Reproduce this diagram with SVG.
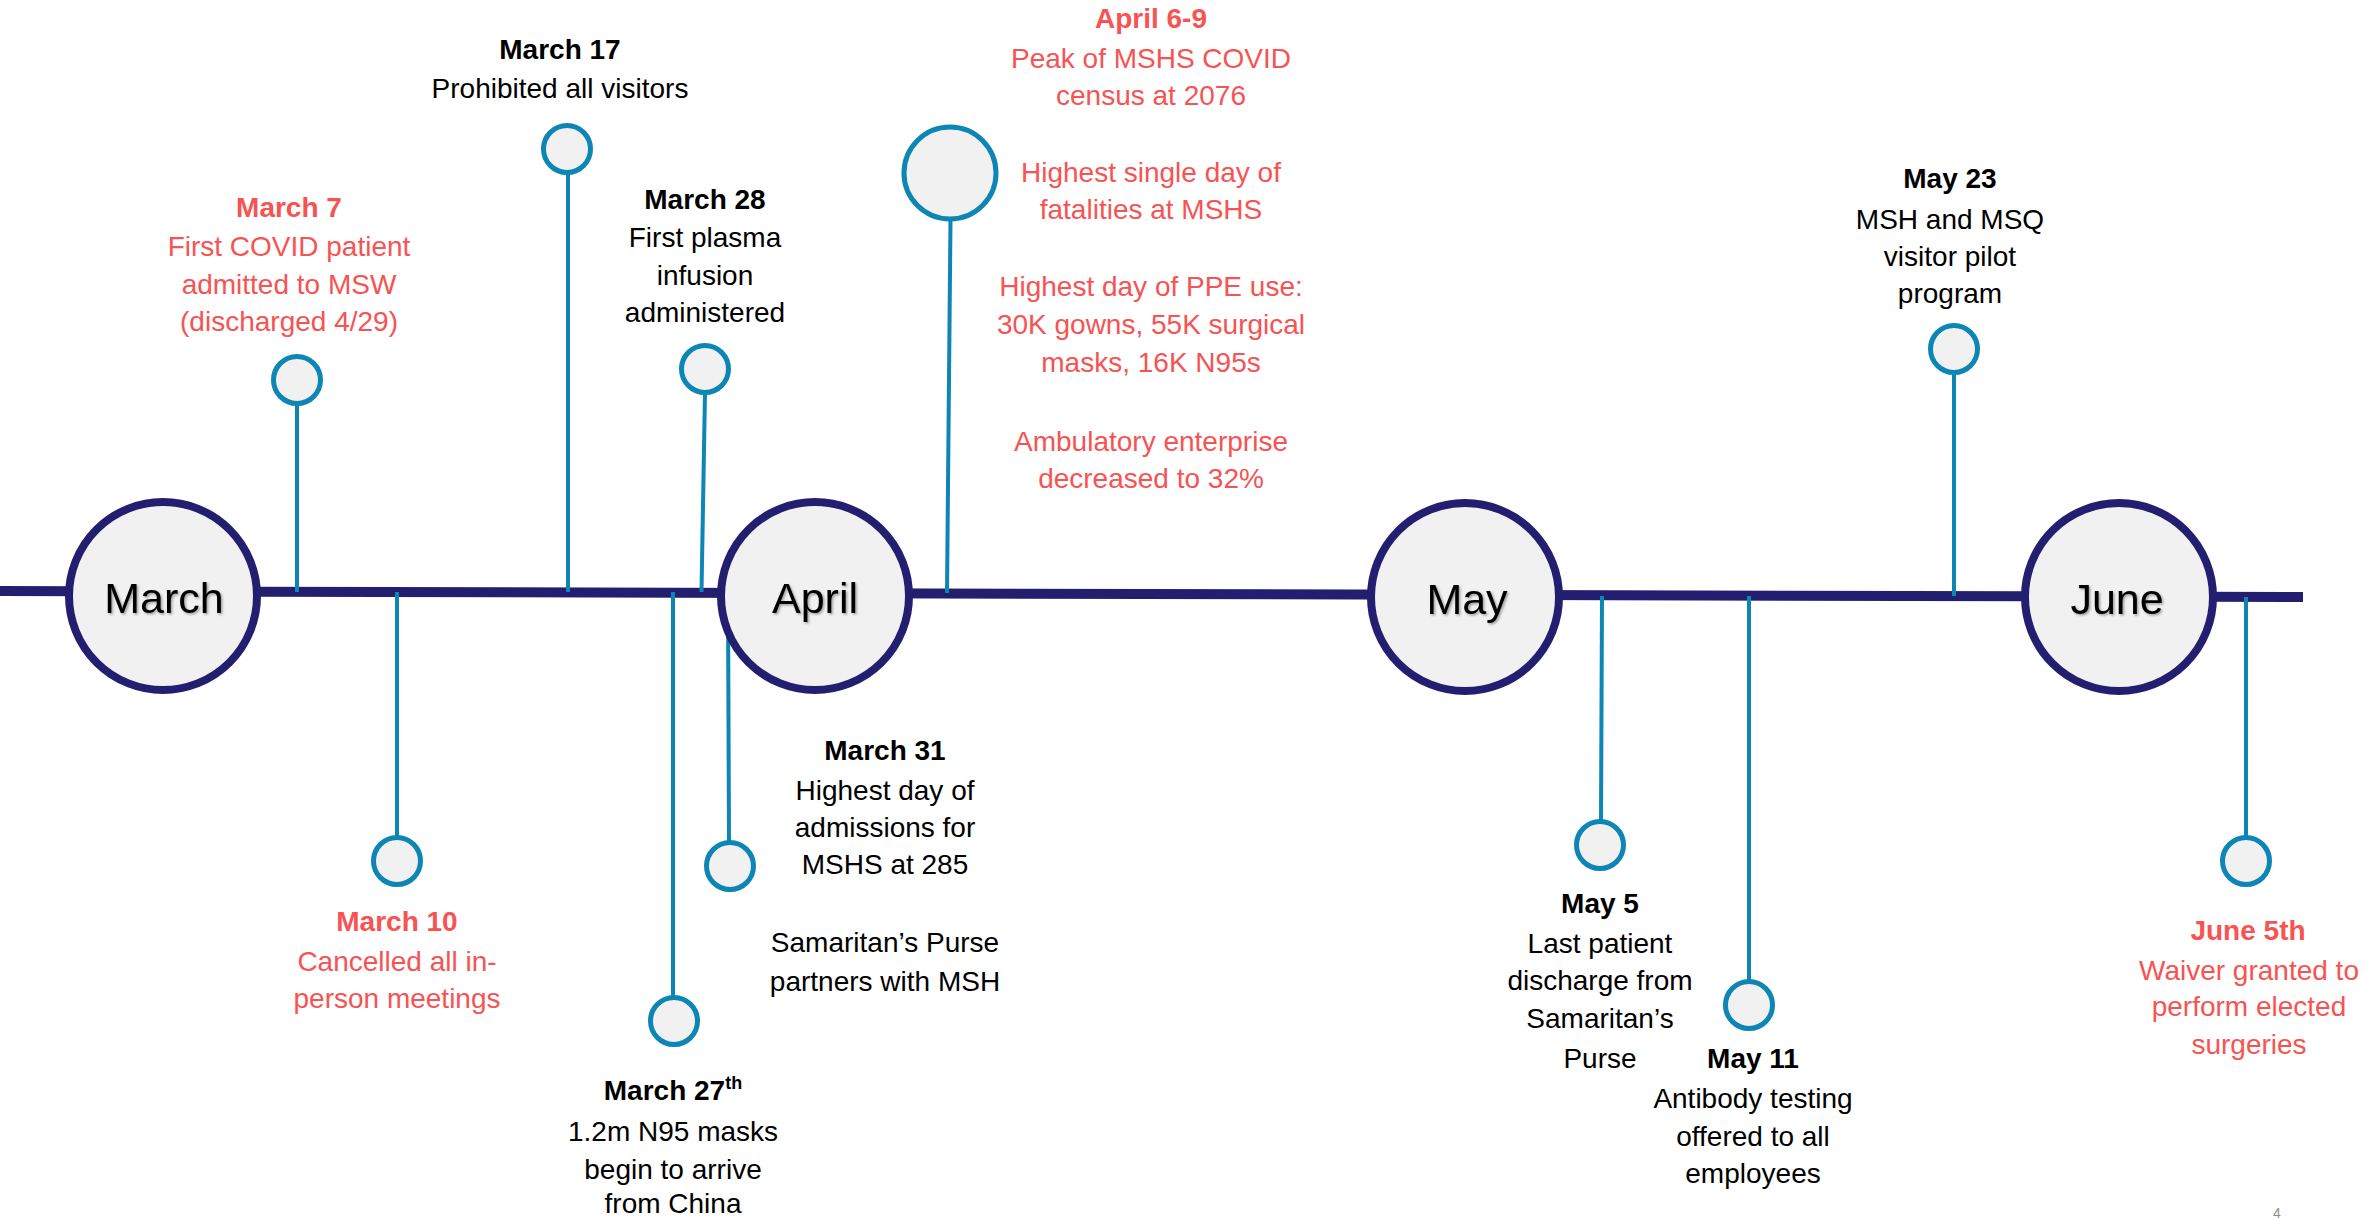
<svg xmlns="http://www.w3.org/2000/svg" width="2367" height="1220" viewBox="0 0 2367 1220">
  <defs>
    <filter id="shadow" x="-20%" y="-20%" width="140%" height="160%">
      <feDropShadow dx="1.5" dy="1.5" stdDeviation="1.2" flood-color="#000" flood-opacity="0.35"/>
    </filter>
  </defs>
  <style>
    text { font-family: "Liberation Sans", Arial, sans-serif; font-size: 28px; text-anchor: middle; }
    .b { font-weight: bold; }
    .red { fill: #F75353; }
    .blk { fill: #000000; }
    .month { font-size: 43px; fill: #000000; filter: url(#shadow); }
    .timeline { stroke: #231E70; stroke-width: 10; fill: none; }
    .stem { stroke: #0D86B6; stroke-width: 4; fill: none; }
    .mcircle { fill: #F1F1F1; stroke: #231E70; stroke-width: 8; }
    .ecircle { fill: #F1F1F1; stroke: #0D86B6; stroke-width: 5; }
    .pg { fill: #8C8C8C; font-size: 14px; }
  </style>

  <rect x="0" y="0" width="2367" height="1220" fill="#FFFFFF"/>

  <g id="connectors">
    <line class="timeline" x1="0" y1="591" x2="2303" y2="597"/>
    <line class="stem" x1="297" y1="403" x2="297" y2="592"/>
    <line class="stem" x1="568" y1="172" x2="568" y2="592"/>
    <line class="stem" x1="705" y1="392" x2="701.5" y2="592"/>
    <line class="stem" x1="950.5" y1="219" x2="947" y2="593"/>
    <line class="stem" x1="1954" y1="372" x2="1954" y2="596"/>
    <line class="stem" x1="397" y1="592" x2="397" y2="838"/>
    <line class="stem" x1="673" y1="592" x2="673" y2="998"/>
    <line class="stem" x1="728" y1="600" x2="729" y2="843"/>
    <line class="stem" x1="1602" y1="596" x2="1601" y2="822"/>
    <line class="stem" x1="1749" y1="596" x2="1749" y2="982"/>
    <line class="stem" x1="2246" y1="597" x2="2246" y2="838"/>
  </g>

  <g id="month-march">
    <circle class="mcircle" cx="163" cy="596" r="94"/>
    <text class="month" x="164" y="613">March</text>
  </g>
  <g id="month-april">
    <circle class="mcircle" cx="815" cy="596" r="94"/>
    <text class="month" x="815" y="613">April</text>
  </g>
  <g id="month-may">
    <circle class="mcircle" cx="1465" cy="597" r="94"/>
    <text class="month" x="1467" y="614">May</text>
  </g>
  <g id="month-june">
    <circle class="mcircle" cx="2119" cy="597" r="94"/>
    <text class="month" x="2117" y="614">June</text>
  </g>

  <g id="event-march7">
    <circle class="ecircle" cx="297" cy="380" r="23.5"/>
    <text class="red"><tspan class="b" x="289" y="217">March 7</tspan><tspan x="289" y="256">First COVID patient</tspan><tspan x="289" y="294">admitted to MSW</tspan><tspan x="289" y="331">(discharged 4/29)</tspan></text>
  </g>

  <g id="event-march17">
    <circle class="ecircle" cx="567" cy="149" r="23.5"/>
    <text class="blk"><tspan class="b" x="560" y="59">March 17</tspan><tspan x="560" y="98">Prohibited all visitors</tspan></text>
  </g>

  <g id="event-march28">
    <circle class="ecircle" cx="705" cy="369" r="23.5"/>
    <text class="blk"><tspan class="b" x="705" y="209">March 28</tspan><tspan x="705" y="247">First plasma</tspan><tspan x="705" y="285">infusion</tspan><tspan x="705" y="322">administered</tspan></text>
  </g>

  <g id="event-april6-9">
    <circle class="ecircle" cx="950" cy="173" r="46"/>
    <text class="red"><tspan class="b" x="1151" y="28">April 6-9</tspan><tspan x="1151" y="68">Peak of MSHS COVID</tspan><tspan x="1151" y="105">census at 2076</tspan><tspan x="1151" y="182">Highest single day of</tspan><tspan x="1151" y="219">fatalities at MSHS</tspan><tspan x="1151" y="296">Highest day of PPE use:</tspan><tspan x="1151" y="334">30K gowns, 55K surgical</tspan><tspan x="1151" y="372">masks, 16K N95s</tspan><tspan x="1151" y="451">Ambulatory enterprise</tspan><tspan x="1151" y="488">decreased to 32%</tspan></text>
  </g>

  <g id="event-may23">
    <circle class="ecircle" cx="1954" cy="349" r="23.5"/>
    <text class="blk"><tspan class="b" x="1950" y="188">May 23</tspan><tspan x="1950" y="229">MSH and MSQ</tspan><tspan x="1950" y="266">visitor pilot</tspan><tspan x="1950" y="303">program</tspan></text>
  </g>

  <g id="event-march10">
    <circle class="ecircle" cx="397" cy="861" r="23.5"/>
    <text class="red"><tspan class="b" x="397" y="931">March 10</tspan><tspan x="397" y="971">Cancelled all in-</tspan><tspan x="397" y="1008">person meetings</tspan></text>
  </g>

  <g id="event-march27">
    <circle class="ecircle" cx="674" cy="1021" r="23.5"/>
    <text class="blk"><tspan class="b" x="673" y="1100">March 27<tspan font-size="18" dy="-11">th</tspan></tspan><tspan x="673" y="1141">1.2m N95 masks</tspan><tspan x="673" y="1179">begin to arrive</tspan><tspan x="673" y="1213">from China</tspan></text>
  </g>

  <g id="event-march31">
    <circle class="ecircle" cx="730" cy="866" r="23.5"/>
    <text class="blk"><tspan class="b" x="885" y="760">March 31</tspan><tspan x="885" y="800">Highest day of</tspan><tspan x="885" y="837">admissions for</tspan><tspan x="885" y="874">MSHS at 285</tspan><tspan x="885" y="952">Samaritan’s Purse</tspan><tspan x="885" y="991">partners with MSH</tspan></text>
  </g>

  <g id="event-may5">
    <circle class="ecircle" cx="1600" cy="845" r="23.5"/>
    <text class="blk"><tspan class="b" x="1600" y="913">May 5</tspan><tspan x="1600" y="953">Last patient</tspan><tspan x="1600" y="990">discharge from</tspan><tspan x="1600" y="1028">Samaritan’s</tspan><tspan x="1600" y="1068">Purse</tspan></text>
  </g>

  <g id="event-may11">
    <circle class="ecircle" cx="1749" cy="1005" r="23.5"/>
    <text class="blk"><tspan class="b" x="1753" y="1068">May 11</tspan><tspan x="1753" y="1108">Antibody testing</tspan><tspan x="1753" y="1146">offered to all</tspan><tspan x="1753" y="1183">employees</tspan></text>
  </g>

  <g id="event-june5">
    <circle class="ecircle" cx="2246" cy="861" r="23.5"/>
    <text class="red"><tspan class="b" x="2248" y="940">June 5th</tspan><tspan x="2249" y="980">Waiver granted to</tspan><tspan x="2249" y="1016">perform elected</tspan><tspan x="2249" y="1054">surgeries</tspan></text>
  </g>

  <text class="pg" x="2277" y="1218">4</text>
</svg>
